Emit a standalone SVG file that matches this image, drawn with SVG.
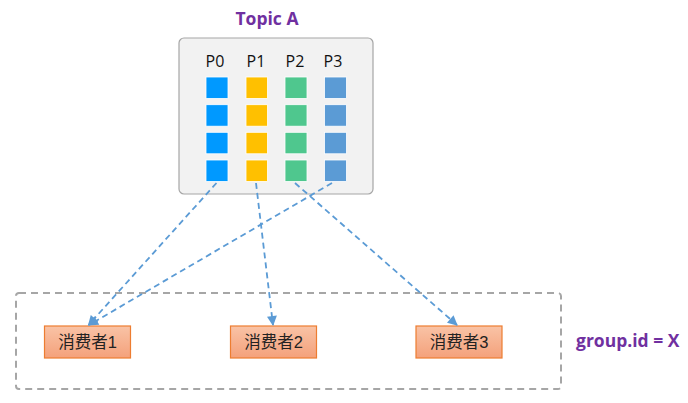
<svg xmlns="http://www.w3.org/2000/svg" width="688" height="403" viewBox="0 0 688 403">
<style>
.title{font-family:"Open Sans","Liberation Sans",sans-serif;font-weight:bold;font-size:17.5px;fill:#7030A0}
.pl{font-family:"Open Sans","Liberation Sans",sans-serif;font-size:16px;fill:#111}
.cl{font-family:"Liberation Sans","Noto Sans CJK SC",sans-serif;font-size:16.5px;fill:#222}
.cons{fill:url(#og);stroke:#ED7D31;stroke-width:1.2}
.conn{fill:none;stroke:#5B9BD5;stroke-width:1.8;stroke-dasharray:6 4;marker-end:url(#ah)}
.sq{stroke:#fff;stroke-width:0.8}
.p0{fill:#0099FF}.p1{fill:#FFC000}.p2{fill:#4FC78E}.p3{fill:#5B9BD5}
</style>
<defs>
<linearGradient id="og" x1="0" y1="0" x2="0" y2="1">
<stop offset="0" stop-color="#F9C3A6"/>
<stop offset="1" stop-color="#F4A17B"/>
</linearGradient>
<marker id="ah" viewBox="0 0 10 10" refX="9" refY="5" markerWidth="11" markerHeight="10" markerUnits="userSpaceOnUse" orient="auto">
<path d="M0,0 L10,5 L0,10 z" fill="#5B9BD5"/>
</marker>
</defs>
<text class="title" x="267" y="25" text-anchor="middle">Topic A</text>
<g id="topic">
<rect x="179" y="38" width="194" height="156" rx="5" fill="#F2F2F2" stroke="#A6A6A6" stroke-width="1.2"/>
<text class="pl" x="215" y="67" text-anchor="middle">P0</text>
<text class="pl" x="256" y="67" text-anchor="middle">P1</text>
<text class="pl" x="295" y="67" text-anchor="middle">P2</text>
<text class="pl" x="333" y="67" text-anchor="middle">P3</text>
<g class="sq">
<rect class="p0" x="206" y="77" width="22" height="21.5"/>
<rect class="p0" x="206" y="104.7" width="22" height="21.5"/>
<rect class="p0" x="206" y="132.3" width="22" height="21.5"/>
<rect class="p0" x="206" y="160" width="22" height="21.5"/>
<rect class="p1" x="246" y="77" width="21.5" height="21.5"/>
<rect class="p1" x="246" y="104.7" width="21.5" height="21.5"/>
<rect class="p1" x="246" y="132.3" width="21.5" height="21.5"/>
<rect class="p1" x="246" y="160" width="21.5" height="21.5"/>
<rect class="p2" x="285" y="77" width="22" height="21.5"/>
<rect class="p2" x="285" y="104.7" width="22" height="21.5"/>
<rect class="p2" x="285" y="132.3" width="22" height="21.5"/>
<rect class="p2" x="285" y="160" width="22" height="21.5"/>
<rect class="p3" x="324.5" y="77" width="22" height="21.5"/>
<rect class="p3" x="324.5" y="104.7" width="22" height="21.5"/>
<rect class="p3" x="324.5" y="132.3" width="22" height="21.5"/>
<rect class="p3" x="324.5" y="160" width="22" height="21.5"/>
</g>
</g>
<g id="group">
<rect x="16" y="293" width="545" height="96" rx="3" fill="none" stroke="#A6A6A6" stroke-width="2" stroke-dasharray="7 5"/>
<text class="title" x="576" y="347">group.id = X</text>
</g>
<g id="consumer1">
<rect class="cons" x="44.5" y="326" width="86" height="32"/>
<text class="cl" x="87.5" y="348" text-anchor="middle">消费者1</text>
</g>
<g id="consumer2">
<rect class="cons" x="230.5" y="326" width="86" height="32"/>
<text class="cl" x="273.5" y="348" text-anchor="middle">消费者2</text>
</g>
<g id="consumer3">
<rect class="cons" x="416" y="326" width="86" height="32"/>
<text class="cl" x="459" y="348" text-anchor="middle">消费者3</text>
</g>
<g id="connectors">
<line class="conn" x1="216.5" y1="183" x2="88.5" y2="325"/>
<line class="conn" x1="332" y1="183" x2="89" y2="325"/>
<line class="conn" x1="256" y1="183" x2="273" y2="325"/>
<line class="conn" x1="295" y1="183" x2="457" y2="325"/>
</g>
</svg>
